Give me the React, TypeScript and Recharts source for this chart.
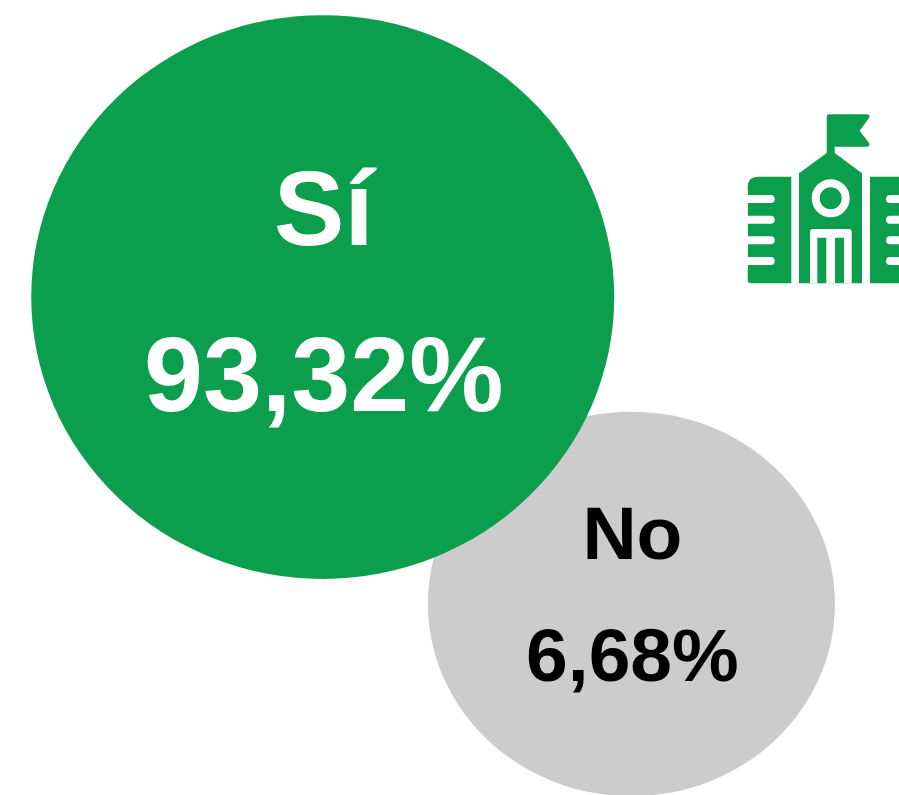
import { ScatterChart, Scatter, XAxis, YAxis, ZAxis } from "recharts";

const categories = ["No", "Sí"];
const shares = [6.68, 93.32];
const shareLabels = ["6,68%", "93,32%"];
// bubble centres on a 0-100 grid
const bubbleX = [70.24, 35.9];
const bubbleY = [24.03, 62.64];

const data = categories.map((name, i) => ({
  name,
  share: shares[i],
  label: shareLabels[i],
  x: bubbleX[i],
  y: bubbleY[i],
}));

const GREEN = "#0b9e4d";
const GREY = "#cccccc";
const FONT = "'Liberation Sans', Arial, sans-serif";

const styles: Record<string, any> = {
  No: { fill: GREY, ink: "#000000", squash: 0.945, fontSize: 75, nameDy: -45, shareDy: 77 },
  "Sí": { fill: GREEN, ink: "#ffffff", squash: 0.967, fontSize: 106, nameDy: -52, shareDy: 114 },
};

function Bubble(props: any) {
  const { cx, cy, width, payload } = props;
  const s = styles[payload.name];
  const rx = width / 2;
  return (
    <g>
      <ellipse cx={cx} cy={cy} rx={rx} ry={rx * s.squash} fill={s.fill} />
      <text x={cx + 1} y={cy + s.nameDy} textAnchor="middle" fontFamily={FONT} fontWeight="bold" fontSize={s.fontSize} fill={s.ink}>
        {payload.name}
      </text>
      <text x={cx + 1} y={cy + s.shareDy} textAnchor="middle" fontFamily={FONT} fontWeight="bold" fontSize={s.fontSize} fill={s.ink}>
        {payload.label}
      </text>
    </g>
  );
}

function SchoolIcon() {
  const stripes = [199, 219.7, 240.3, 261];
  return (
    <g>
      <path
        d="M829 114.3H866.5Q870.5 114.3 869 118L859.7 130.7L869 143Q870.5 146.7 866.5 146.7H834.7V153L862 173.3V283.3H799V173.3L826.7 153V116.5Q826.7 114.3 829 114.3Z"
        fill={GREEN}
      />
      <circle cx={830.7} cy={198.3} r={15} fill={GREEN} stroke="#fff" strokeWidth={8} />
      <path
        d="M810 283.3V232Q810 229 813 229H848.7Q851.7 229 851.7 232V283.3H844V237.7H835V283.3H826.3V237.7H817.3V283.3Z"
        fill="#fff"
      />
      <path d="M747.7 187Q747.7 176.7 758 176.7H791.3V283.3H751Q747.7 283.3 747.7 280Z" fill={GREEN} />
      <rect x={870} y={176.7} width={29} height={106.6} fill={GREEN} />
      {stripes.map((y) => (
        <g key={y}>
          <path d={`M747.7 ${y}H770.7`} stroke="#fff" strokeWidth={8} strokeLinecap="round" />
          <path d={`M890 ${y}H899`} stroke="#fff" strokeWidth={8} strokeLinecap="round" />
        </g>
      ))}
      <rect x={743} y={190} width={4.7} height={80} fill="#fff" />
    </g>
  );
}

export default function App() {
  return (
    <div style={{ position: "absolute", left: 0, top: 0, width: 899, height: 795, background: "#fff", overflow: "hidden" }}>
      <ScatterChart width={899} height={795} margin={{ top: 0, right: 0, bottom: 0, left: 0 }}>
        <XAxis type="number" dataKey="x" domain={[0, 100]} hide />
        <YAxis type="number" dataKey="y" domain={[0, 100]} hide />
        <ZAxis type="number" dataKey="share" domain={[6.68, 93.32]} range={[130100, 266950]} />
        <Scatter data={data} shape={Bubble} isAnimationActive={false} />
        <SchoolIcon />
      </ScatterChart>
    </div>
  );
}
